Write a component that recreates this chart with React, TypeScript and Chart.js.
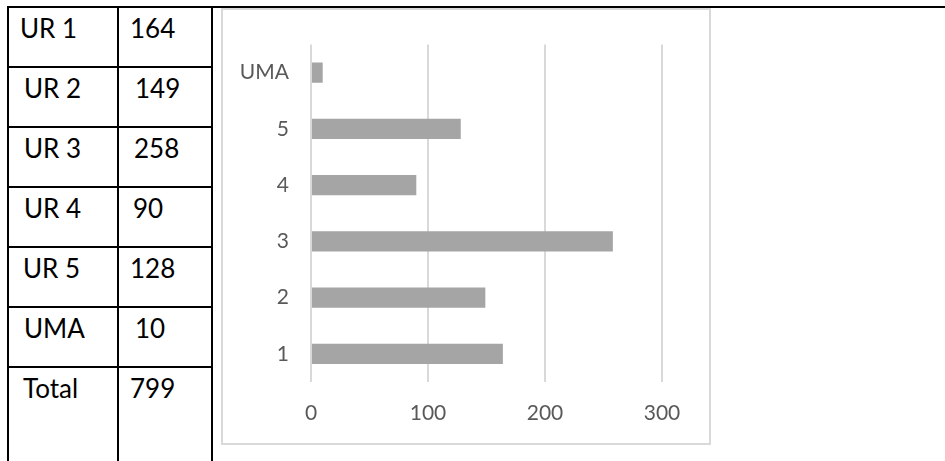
import React, { useEffect, useRef } from "react";
import { Chart, registerables } from "chart.js";

Chart.register(...registerables);

// ---- data ----
const tableLabels = ["UR 1", "UR 2", "UR 3", "UR 4", "UR 5", "UMA", "Total"];
const tableValues = [164, 149, 258, 90, 128, 10, 799];

const categories = ["1", "2", "3", "4", "5", "UMA"];
const values = [164, 149, 258, 90, 128, 10];

const xTickMin = 0;
const xTickMax = 300;
const xTickStep = 100;

// ---- layout (styling only) ----
const labelIndent = [20, 24, 24, 24, 23, 24, 23];
const valueIndent = [130, 135, 134, 133, 130, 135, 130];
const rowLines = [6, 66, 126, 186, 246, 306, 366];
const colLines = [7, 117, 211];

const FONT = "Lato, 'Open Sans', sans-serif";

function BarChart() {
  const ref = useRef<HTMLCanvasElement | null>(null);
  useEffect(() => {
    if (!ref.current) return;
    const chart = new Chart(ref.current, {
      type: "bar",
      data: {
        labels: categories,
        datasets: [
          {
            data: values,
            backgroundColor: "#a5a5a5",
            borderWidth: 0,
            barPercentage: 0.36,
            categoryPercentage: 1,
          },
        ],
      },
      options: {
        indexAxis: "y",
        animation: false,
        responsive: false,
        devicePixelRatio: 1,
        layout: { padding: { top: 27, left: 0, right: 47, bottom: 0 } },
        plugins: { legend: { display: false }, tooltip: { enabled: false } },
        scales: {
          x: {
            min: xTickMin,
            max: xTickMax,
            ticks: {
              stepSize: xTickStep,
              color: "#595959",
              font: { family: FONT, size: 21 },
              padding: 19,
            },
            grid: { color: "#d9d9d9", lineWidth: 2, drawTicks: false },
            border: { display: false },
            afterFit: (s: any) => {
              s.height = 61;
            },
          },
          y: {
            reverse: true,
            ticks: {
              color: "#595959",
              font: { family: FONT, size: 21 },
              padding: 22,
            },
            grid: { display: false, drawTicks: false },
            border: { display: false },
            afterFit: (s: any) => {
              s.width = 88;
            },
          },
        },
      },
    });
    return () => chart.destroy();
  }, []);
  return (
    <canvas
      ref={ref}
      width={486}
      height={433}
      style={{ position: "absolute", left: 223, top: 10, width: 486, height: 433 }}
    />
  );
}

export default function App() {
  return (
    <div
      style={{
        position: "absolute",
        left: 0,
        top: 0,
        width: 945,
        height: 461,
        overflow: "hidden",
        background: "#ffffff",
        fontFamily: FONT,
      }}
    >
      {/* table grid lines */}
      {rowLines.map((y, i) => (
        <div
          key={"r" + i}
          style={{
            position: "absolute",
            left: colLines[0],
            top: y,
            width: i === 0 ? 945 - colLines[0] : colLines[2] + 2 - colLines[0],
            height: 2,
            background: "#000",
          }}
        />
      ))}
      {colLines.map((x, i) => (
        <div
          key={"c" + i}
          style={{
            position: "absolute",
            left: x,
            top: rowLines[0],
            width: 2,
            height: 461 - rowLines[0],
            background: "#000",
          }}
        />
      ))}
      {/* table text */}
      {tableLabels.map((t, i) => (
        <React.Fragment key={"t" + i}>
          <div
            style={{
              position: "absolute",
              left: labelIndent[i],
              top: rowLines[i] + 9,
              fontSize: 26,
              lineHeight: 1,
              color: "#000",
              whiteSpace: "nowrap",
            }}
          >
            {t}
          </div>
          <div
            style={{
              position: "absolute",
              left: valueIndent[i],
              top: rowLines[i] + 9,
              fontSize: 26,
              lineHeight: 1,
              color: "#000",
              whiteSpace: "nowrap",
            }}
          >
            {tableValues[i]}
          </div>
        </React.Fragment>
      ))}
      {/* chart box */}
      <div
        style={{
          position: "absolute",
          left: 221,
          top: 8,
          width: 490,
          height: 437,
          boxSizing: "border-box",
          border: "2px solid #d9d9d9",
          background: "#fff",
        }}
      />
      <BarChart />
    </div>
  );
}
